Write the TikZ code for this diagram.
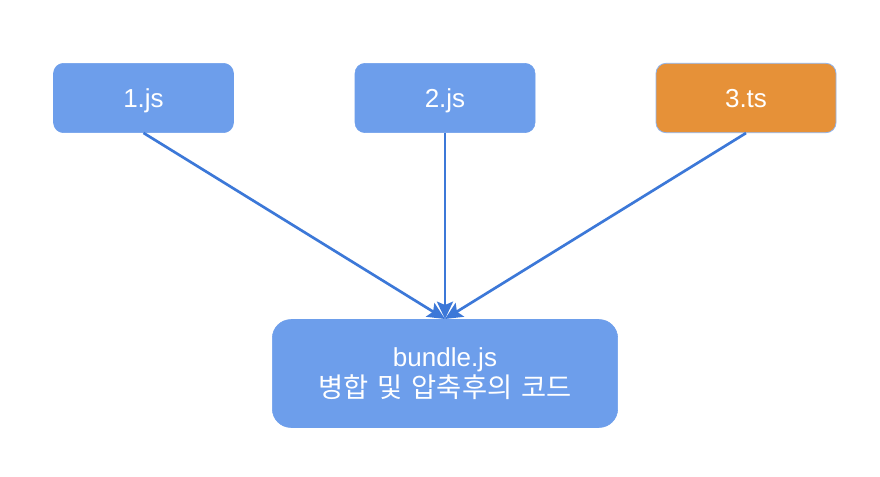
\documentclass[tikz,border=0pt]{standalone}
\usepackage{fontspec}
\setmainfont{Liberation Sans}
\newfontfamily\krfont{Noto Sans CJK KR}
\usetikzlibrary{arrows.meta}
\definecolor{boxblue}{HTML}{6D9EEB}
\definecolor{boxorange}{HTML}{E69138}
\definecolor{arrowblue}{HTML}{3C78D8}
\definecolor{edgeblue}{HTML}{8FB4EE}
\tikzset{
  filebox/.style={draw=boxblue, fill=boxblue, rounded corners=7.5pt, minimum width=135pt, minimum height=52pt, text=white, font=\fontsize{19.5}{22}\selectfont, inner sep=0pt, text height=14pt, text depth=0pt},
  bundlebox/.style={draw=boxblue, fill=boxblue, rounded corners=14pt, minimum width=259pt, minimum height=81pt, text=white, font=\fontsize{19.5}{23.5}\selectfont, align=center, inner sep=0pt},
  conn/.style={draw=arrowblue, line width=2pt, -{Stealth[length=13pt,width=12pt,inset=2.5pt]}}
}
\begin{document}
\begin{tikzpicture}[x=0.75pt,y=-0.75pt]
\useasboundingbox (0,0) rectangle (880,477);
\fill[white] (0,0) rectangle (880,477);
\node[filebox] (a) at (143.5,98) {1.js};
\node[filebox] (b) at (445,98) {2.js};
\node[filebox, fill=boxorange, draw=edgeblue, line width=0.6pt] (c) at (746,98) {3.ts};
\node[bundlebox] (d) at (445,373.5) {bundle.js\\{\krfont\fontsize{20.5}{23.5}\selectfont 병합\hspace{0.1em} 및\hspace{0.1em} 압축후의\hspace{0.1em} 코드}};
\coordinate (t) at (445,319);
\draw[conn] (a.south) -- (t);
\draw[conn] (b.south) -- (t);
\draw[conn] (c.south) -- (t);
\end{tikzpicture}
\end{document}
